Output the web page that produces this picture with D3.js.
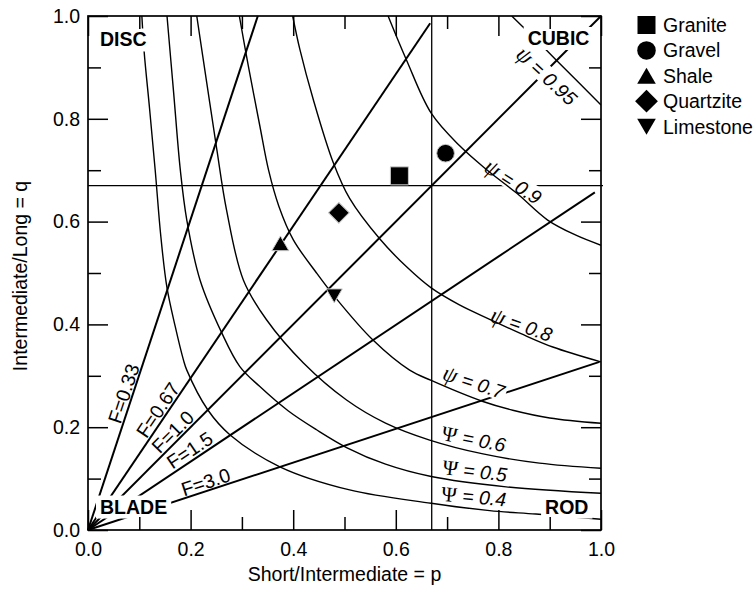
<!DOCTYPE html>
<html><head><meta charset="utf-8">
<script src="https://cdn.jsdelivr.net/npm/d3@7"></script>
<style>
body{margin:0;background:#fff;}
svg{display:block;font-family:"Liberation Sans",Arial,Helvetica,sans-serif;}
</style></head><body>
<svg id="chart" width="756" height="592"></svg>
<script>
// ---------------- data ----------------
const rockNames = ["Granite","Gravel","Shale","Quartzite","Limestone"];
const rockP = [0.607,0.697,0.375,0.489,0.480];
const rockQ = [0.689,0.733,0.553,0.617,0.460];

const majorTicks = [0,0.2,0.4,0.6,0.8,1.0];
const minorTicks = [0.1,0.3,0.5,0.7,0.9];

const psiLevels = ["0.95","0.9","0.8","0.7","0.6","0.5","0.4"];
const psi095 = [[0.826,1.0],[0.87,0.957],[0.912,0.915],[0.956,0.871],[1.0,0.827]];
const psi090 = [[0.585,1.0],[0.621,0.914],[0.669,0.811],[0.724,0.748],[0.776,0.702],[0.836,0.655],[0.896,0.603],[0.95,0.574],[1.0,0.554]];
const psi080 = [[0.399,1.0],[0.413,0.935],[0.439,0.838],[0.478,0.715],[0.51,0.645],[0.569,0.566],[0.621,0.512],[0.669,0.471],[0.724,0.438],[0.783,0.41],[0.844,0.382],[0.906,0.356],[1.0,0.327]];
const psi070 = [[0.295,1.0],[0.3125,0.903],[0.335,0.786],[0.352,0.70],[0.372,0.63],[0.40,0.565],[0.4455,0.50],[0.48,0.455],[0.555,0.37],[0.627,0.311],[0.669,0.291],[0.77,0.25],[0.828,0.233],[0.9,0.218],[1.0,0.2076]];
const psi060 = [[0.212,1.0],[0.2315,0.87],[0.251,0.741],[0.27,0.623],[0.303,0.486],[0.348,0.409],[0.42,0.325],[0.504,0.253],[0.58,0.208],[0.666,0.175],[0.77,0.148],[0.88,0.13],[1.0,0.12]];
const psi050 = [[0.154,1.0],[0.167,0.85],[0.18,0.70],[0.1926,0.603],[0.2185,0.486],[0.261,0.383],[0.296,0.318],[0.335,0.279],[0.39,0.232],[0.4455,0.195],[0.505,0.16],[0.58,0.128],[0.669,0.104],[0.815,0.084],[1.0,0.0714]];
const psi040 = [[0.105,1.0],[0.1095,0.93],[0.12,0.82],[0.131,0.70],[0.142,0.571],[0.1537,0.473],[0.17,0.396],[0.186,0.331],[0.1926,0.311],[0.234,0.233],[0.277,0.185],[0.374,0.123],[0.51,0.078],[0.669,0.052],[0.783,0.0376],[0.873,0.031],[1.0,0.021]];
const psiCurves = [psi095,psi090,psi080,psi070,psi060,psi050,psi040];

const fValues = ["0.33","0.67","1.0","1.5","3.0"];
const fEndP = [0.331,0.667,1.0,0.988,0.997];
const fEndQ = [1.0,0.986,1.0,0.657,0.327];

const zinggP = 0.67, zinggQ = 0.67;
const classNames = ["DISC","CUBIC","BLADE","ROD"];

// ---------------- layout ----------------
const svg = d3.select("#chart");
const x = d3.scaleLinear().domain([0,1]).range([88,601]);
const y = d3.scaleLinear().domain([0,1]).range([530,16]);
const FONT = 19.5;

svg.append("defs").append("clipPath").attr("id","plotClip").append("rect")
  .attr("x",x(0)).attr("y",y(1)).attr("width",x(1)-x(0)).attr("height",y(0)-y(1));

const plot = svg.append("g");

// Zingg class boundaries
plot.append("line").attr("x1",x(zinggP)).attr("x2",x(zinggP)).attr("y1",y(0)).attr("y2",y(1))
  .attr("stroke","#000").attr("stroke-width",1.3);
plot.append("line").attr("x1",x(0)).attr("x2",x(1)+2).attr("y1",y(zinggQ)).attr("y2",y(zinggQ))
  .attr("stroke","#000").attr("stroke-width",1.3);

// F lines
fValues.forEach((f,i)=>{
  plot.append("line").attr("x1",x(0)).attr("y1",y(0)).attr("x2",x(fEndP[i])).attr("y2",y(fEndQ[i]))
    .attr("stroke","#000").attr("stroke-width",2);
});
// F labels
const fLabelPos = [[0.0692,0.2656],[0.136,0.2335],[0.165,0.1912],[0.198,0.1556],[0.2294,0.0936]];
fValues.forEach((f,i)=>{
  const ang = Math.atan2(y(fEndQ[i])-y(0), x(fEndP[i])-x(0))*180/Math.PI;
  plot.append("text").attr("transform",`translate(${x(fLabelPos[i][0])},${y(fLabelPos[i][1])}) rotate(${ang})`)
    .attr("text-anchor","middle").attr("dy","0.36em").attr("font-size",FONT).text("F="+f);
});

// psi labels: background first
const psiLabelPos = [[0.894,0.883,43],[0.8285,0.677,33],[0.845,0.399,19],[0.752,0.287,18],[0.752,0.177,11],[0.754,0.115,7],[0.752,0.065,5]];
const psiLabelGroups = [];
psiLevels.forEach((lv,i)=>{
  const [pp,qq,ang] = psiLabelPos[i];
  const g = plot.append("g").attr("transform",`translate(${x(pp)},${y(qq)}) rotate(${ang})`);
  const t = g.append("text").attr("text-anchor","middle").attr("dy","0.36em")
    .attr("font-size",FONT).attr("font-style","italic");
  const upper = i >= 4;
  t.append("tspan").attr("font-family",'"Liberation Serif","Times New Roman",serif')
    .attr("font-size", upper ? 21 : 23)
    .attr("font-style", upper ? "normal" : "italic").text(upper ? "\u03A8" : "\u03C8");
  t.append("tspan").text(" = " + lv);
  psiLabelGroups.push(g);
});
psiLabelGroups.forEach(g=>{
  const bb = g.select("text").node().getBBox();
  g.insert("rect","text").attr("x",bb.x-1).attr("y",bb.y+3).attr("width",bb.width+2).attr("height",bb.height-6)
    .attr("fill","#fff");
});
const curveLine = d3.line().x(d=>x(d[0])).y(d=>y(d[1])).curve(d3.curveCatmullRom.alpha(0.5));
const curveLayer = plot.append("g").attr("clip-path","url(#plotClip)");
psiCurves.forEach(c=>{
  curveLayer.append("path").attr("d",curveLine(c)).attr("fill","none")
    .attr("stroke","#000").attr("stroke-width",1.4);
});
psiLabelGroups.forEach(g=>{
  const txt = g.select("text").node();
  const ng = plot.append("g").attr("transform",g.attr("transform"));
  ng.node().appendChild(txt);
});

// class labels with white background
const classPos = [[0.0234,0.9407],[0.857,0.9436],[0.0234,0.032],[0.891,0.032]];
classNames.forEach((c,i)=>{
  const [pp,qq] = classPos[i];
  const g = plot.append("g");
  const t = g.append("text").attr("x",x(pp)).attr("y",y(qq))
    .attr("font-size",FONT).attr("font-weight","bold").text(c);
  const bb = t.node().getBBox();
  g.insert("rect","text").attr("x",bb.x-4).attr("y",bb.y).attr("width",bb.width+8).attr("height",bb.height+1)
    .attr("fill","#fff");
});

// markers
const symTypes = [d3.symbolSquare,d3.symbolCircle,d3.symbolTriangle,d3.symbolSquare,d3.symbolTriangle];
const symRot = [0,0,0,45,180];
const plotSizes = [324,246,125,215,112];
rockNames.forEach((n,i)=>{
  plot.append("path").attr("d",d3.symbol().type(symTypes[i]).size(plotSizes[i])())
    .attr("transform",`translate(${x(rockP[i])},${y(rockQ[i])}) rotate(${symRot[i]})`)
    .attr("fill","#000").attr("stroke","#c8c8c8").attr("stroke-width",1);
});

// axes
function styleAxis(g){
  g.select(".domain").remove();
  g.selectAll(".tick line").attr("stroke","#000").attr("stroke-width",1.5);
  g.selectAll("text").attr("font-size",FONT).attr("fill","#000")
    .attr("font-family",'"Liberation Sans",Arial,sans-serif');
}
const fmt = d3.format(".1f");
svg.append("g").attr("transform",`translate(0,${y(0)})`)
  .call(d3.axisBottom(x).tickValues(majorTicks).tickSize(-20).tickPadding(12).tickFormat(fmt)).call(styleAxis);
svg.append("g").attr("transform",`translate(0,${y(0)})`)
  .call(d3.axisBottom(x).tickValues(minorTicks).tickSize(-13).tickFormat("")).call(styleAxis);
svg.append("g").attr("transform",`translate(${x(0)},0)`)
  .call(d3.axisLeft(y).tickValues(majorTicks).tickSize(-20).tickPadding(8).tickFormat(fmt)).call(styleAxis);
svg.append("g").attr("transform",`translate(${x(0)},0)`)
  .call(d3.axisLeft(y).tickValues(minorTicks).tickSize(-13).tickFormat("")).call(styleAxis);
svg.append("g").attr("transform",`translate(0,${y(1)})`)
  .call(d3.axisTop(x).tickValues(majorTicks).tickSize(-20).tickFormat("")).call(styleAxis);
svg.append("g").attr("transform",`translate(0,${y(1)})`)
  .call(d3.axisTop(x).tickValues(minorTicks).tickSize(-13).tickFormat("")).call(styleAxis);
svg.append("g").attr("transform",`translate(${x(1)},0)`)
  .call(d3.axisRight(y).tickValues(majorTicks).tickSize(-20).tickFormat("")).call(styleAxis);
svg.append("g").attr("transform",`translate(${x(1)},0)`)
  .call(d3.axisRight(y).tickValues(minorTicks).tickSize(-12).tickFormat("")).call(styleAxis);

svg.append("rect").attr("x",x(0)).attr("y",y(1)).attr("width",x(1)-x(0)).attr("height",y(0)-y(1))
  .attr("fill","none").attr("stroke","#000").attr("stroke-width",1.7);

// axis titles
svg.append("text").attr("x",(x(0)+x(1))/2).attr("y",581).attr("text-anchor","middle")
  .attr("font-size",FONT).text("Short/Intermediate = p");
svg.append("text").attr("transform",`translate(27,${(y(0)+y(1))/2 + 3}) rotate(-90)`).attr("text-anchor","middle")
  .attr("font-size",FONT).text("Intermediate/Long = q");

// legend
const legendSizes = [324,270,150,260,150];
const legendDy = [0,0,2.6,0,-2.6];
rockNames.forEach((n,i)=>{
  const cy = 25 + i*25.4;
  svg.append("path").attr("d",d3.symbol().type(symTypes[i]).size(legendSizes[i])())
    .attr("transform",`translate(646.5,${cy+legendDy[i]}) rotate(${symRot[i]})`).attr("fill","#000");
  svg.append("text").attr("x",663).attr("y",cy).attr("dy","0.36em").attr("font-size",FONT).text(n);
});
</script>
</body></html>
